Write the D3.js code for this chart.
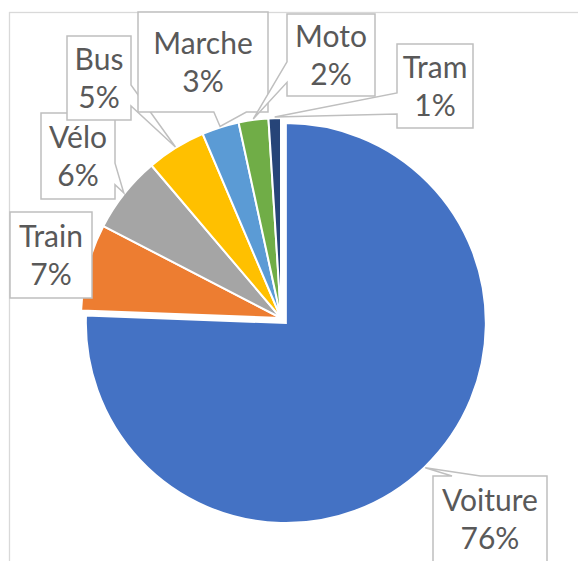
<!DOCTYPE html>
<html>
<head>
<meta charset="utf-8">
<script src="https://cdn.jsdelivr.net/npm/d3@7"></script>
<style>
  html, body { margin: 0; padding: 0; background: #fff; }
  svg { display: block; }
</style>
</head>
<body>
<svg id="chart" width="578" height="561"></svg>
<script>
// ---- data ----
const categories = ["Voiture", "Train", "Vélo", "Bus", "Marche", "Moto", "Tram"];
const values = [75.6, 7.0, 6.2, 4.8, 3.0, 2.4, 1.0];

// ---- styles / layout ----
const colors = ["#4472C4", "#ED7D31", "#A5A5A5", "#FFC000", "#5B9BD5", "#70AD47", "#264478"];
const labelBoxes = [
  [433, 476, 547, 563],
  [10, 212, 92, 298],
  [41, 113, 115, 199],
  [67, 36, 131, 120],
  [138, 12, 268, 112],
  [287, 14, 375, 96],
  [397, 44, 473, 128]
];
const explodeIndex = 0, explodeDist = 7;
const cx = 281, cy = 318, R = 200;

const svg = d3.select("#chart");

// chart area border
svg.append("rect")
  .attr("x", 9.5).attr("y", 12.5).attr("width", 700).attr("height", 700)
  .attr("fill", "#fff").attr("stroke", "#D9D9D9").attr("stroke-width", 1.3);

const total = d3.sum(values);
const pie = d3.pie().sort(null).value(d => d)(values);
const arc = d3.arc().innerRadius(0).outerRadius(R);

function offsetOf(i) {
  if (i !== explodeIndex) return [0, 0];
  const a = (pie[i].startAngle + pie[i].endAngle) / 2;
  return [Math.sin(a) * explodeDist, -Math.cos(a) * explodeDist];
}

const g = svg.append("g").attr("transform", `translate(${cx},${cy})`);
g.selectAll("path.slice").data(pie).enter().append("path")
  .attr("class", "slice")
  .attr("d", arc)
  .attr("transform", (d, i) => { const o = offsetOf(i); return `translate(${o[0]},${o[1]})`; })
  .attr("fill", (d, i) => colors[i])
  .attr("stroke", "#fff")
  .attr("stroke-width", 2)
  .attr("stroke-linejoin", "miter");

// callouts
function calloutPath(b, tip) {
  const [x0, y0, x1, y1] = b;
  const w = x1 - x0, h = y1 - y0;
  const hc = x0 + w / 2, vc = y0 + h / 2;
  const dxPos = tip[0] - hc, dyPos = tip[1] - vc;
  const inside = tip[0] >= x0 && tip[0] <= x1 && tip[1] >= y0 && tip[1] <= y1;
  if (inside) return `M${x0},${y0}L${x1},${y0}L${x1},${y1}L${x0},${y1}Z`;
  const dq = dxPos * h / w;
  const dz = Math.abs(dyPos) - Math.abs(dq);
  const xl = x0 + w * (dxPos > 0 ? 7 : 2) / 12, xr = x0 + w * (dxPos > 0 ? 10 : 5) / 12;
  const yt = y0 + h * (dyPos > 0 ? 7 : 2) / 12, yb = y0 + h * (dyPos > 0 ? 10 : 5) / 12;
  const t = `${tip[0]},${tip[1]}`;
  if (dz > 0) {
    if (dyPos < 0) return `M${x0},${y0}L${xl},${y0}L${t}L${xr},${y0}L${x1},${y0}L${x1},${y1}L${x0},${y1}Z`;
    return `M${x0},${y0}L${x1},${y0}L${x1},${y1}L${xr},${y1}L${t}L${xl},${y1}L${x0},${y1}Z`;
  } else {
    if (dxPos < 0) return `M${x0},${y0}L${x1},${y0}L${x1},${y1}L${x0},${y1}L${x0},${yb}L${t}L${x0},${yt}Z`;
    return `M${x0},${y0}L${x1},${y0}L${x1},${yt}L${t}L${x1},${yb}L${x1},${y1}L${x0},${y1}Z`;
  }
}

const labels = svg.append("g");
pie.forEach((d, i) => {
  const a = (d.startAngle + d.endAngle) / 2;
  const o = offsetOf(i);
  const tip = [cx + o[0] + Math.sin(a) * (R + 1), cy + o[1] - Math.cos(a) * (R + 1)];
  const b = labelBoxes[i];
  const lg = labels.append("g");
  lg.append("path")
    .attr("d", calloutPath(b, tip))
    .attr("fill", "#fff")
    .attr("stroke", "#BFBFBF")
    .attr("stroke-width", 1.5)
    .attr("stroke-linejoin", "miter");
  const tx = (b[0] + b[2]) / 2, ty = (b[1] + b[3]) / 2;
  const pct = Math.round(values[i] / total * 100) + "%";
  const txt = lg.append("text")
    .attr("x", tx)
    .attr("text-anchor", "middle")
    .attr("font-family", "Lato, 'Noto Sans', sans-serif")
    .attr("font-size", 30)
    .attr("fill", "#595959");
  txt.append("tspan").attr("x", tx).attr("y", ty - 8.5).text(categories[i]);
  txt.append("tspan").attr("x", tx).attr("y", ty + 29.5).text(pct);
});
</script>
</body>
</html>
